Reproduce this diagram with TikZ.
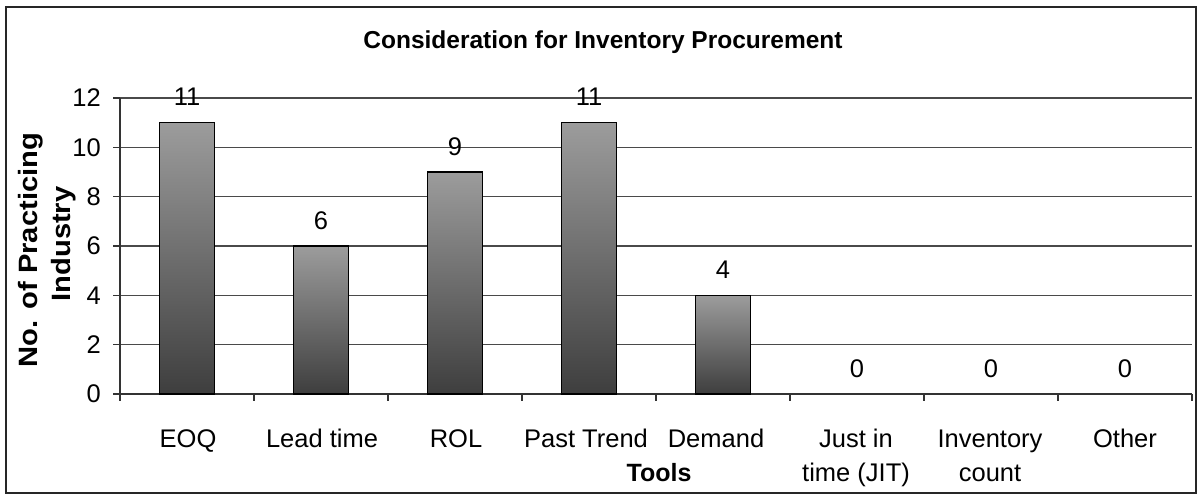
\documentclass[tikz,border=0pt]{standalone}
\usepackage{fontspec}
\setmainfont{Liberation Sans}
\newfontfamily\axistitlefont[FakeStretch=1.1]{Liberation Sans}
\definecolor{barTop}{HTML}{9C9C9C}
\definecolor{barBot}{HTML}{3E3E3E}
\definecolor{gridc}{HTML}{4A4A4A}
\begin{document}
\begin{tikzpicture}[x=1pt,y=-1pt,
  txt/.style={font=\fontsize{25.5}{30}\selectfont, inner sep=0pt, text=black},
  boldtxt/.style={font=\fontsize{25}{30}\selectfont\bfseries, inner sep=0pt, text=black},
  ytitletxt/.style={font=\fontsize{26.5}{30}\selectfont\axistitlefont\bfseries, inner sep=0pt, text=black},
  titletxt/.style={font=\fontsize{24.5}{30}\selectfont\bfseries, inner sep=0pt, text=black},
  frame/.style={draw=black!85, line width=1.5pt},
  gridline/.style={draw=gridc, line width=1.2pt},
  axisline/.style={draw=black!80, line width=1.2pt},
  barshade/.style={top color=barTop, bottom color=barBot},
  barline/.style={draw=black, line width=1.5pt}]
\useasboundingbox (0,0) rectangle (1198,496);
\fill[white] (0,0) rectangle (1198,496);

% chart frame and title
\draw[frame] (6,7) rectangle (1196,493);
\node[titletxt, anchor=base] (title) at (603,48) {Consideration for Inventory Procurement};

% value axis: grid, ticks and tick labels
\def\u{24.6667}
\foreach \v in {2,4,...,12}
  \draw[gridline] (120,{394-\u*\v}) -- (1192,{394-\u*\v});
\foreach \v in {0,2,...,12} {
  \draw[axisline] (113,{394-\u*\v}) -- (120,{394-\u*\v});
  \node[txt, anchor=east] (yt\v) at (101,{394-\u*\v}) {\v};
}
\draw[axisline] (120,98) -- (120,394) -- (1192,394);
\foreach \i in {0,...,8}
  \draw[axisline] ({120+134*\i},394) -- ({120+134*\i},401);

% bars with value labels
\foreach \v [count=\i from 0] in {11,6,9,11,4,0,0,0} {
  \pgfmathsetmacro{\cx}{187+134*\i}
  \ifnum\v>0
    \shade[barshade] ({\cx-27.5},{394-\u*\v}) rectangle ({\cx+27.5},394);
    \draw[barline] ({\cx-27.5},{394-\u*\v}) rectangle ({\cx+27.5},394);
  \fi
  \node[txt] (val\i) at (\cx,{394-\u*\v-25.5}) {\v};
}

% category labels
\node[txt, anchor=base] (c0) at (188,447) {EOQ};
\node[txt, anchor=base] (c1) at (322,447) {Lead time};
\node[txt, anchor=base] (c2) at (456,447) {ROL};
\node[txt, anchor=base] (c3) at (586,447) {Past Trend};
\node[txt, anchor=base] (c4) at (716,447) {Demand};
\node[txt, anchor=base] (c5a) at (856,447) {Just in};
\node[txt, anchor=base] (c5b) at (856,481) {time (JIT)};
\node[txt, anchor=base] (c6a) at (990,447) {Inventory};
\node[txt, anchor=base] (c6b) at (990,481) {count};
\node[txt, anchor=base] (c7) at (1125,447) {Other};

% axis titles
\node[boldtxt, anchor=base] (xtitle) at (659,481) {Tools};
\node[ytitletxt, rotate=90, anchor=base] (ytitle1) at (37,250) {No. of Practicing};
\node[ytitletxt, rotate=90, anchor=base] (ytitle2) at (70,244) {Industry};
\end{tikzpicture}
\end{document}
